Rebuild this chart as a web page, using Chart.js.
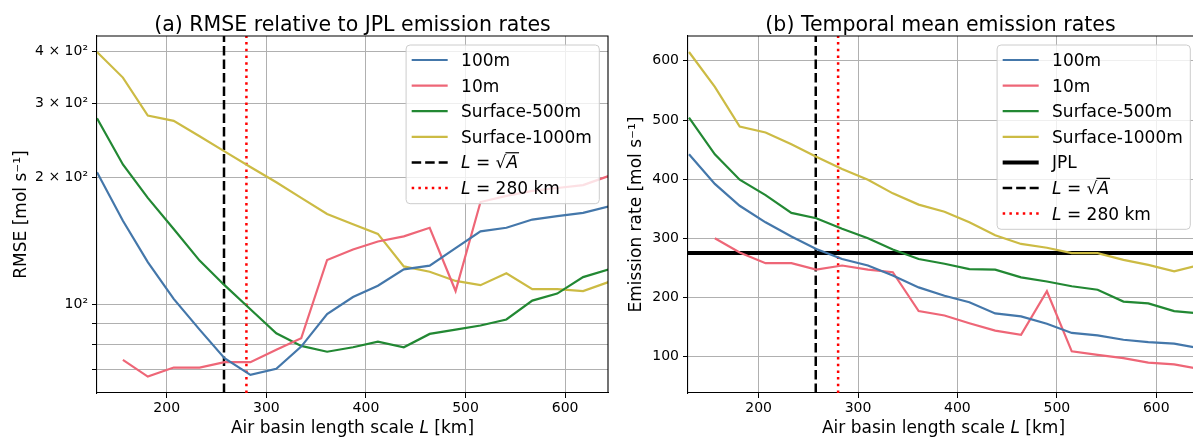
<!DOCTYPE html>
<html>
<head>
<meta charset="utf-8">
<script src="https://cdn.jsdelivr.net/npm/chart.js@4.4.0/dist/chart.umd.min.js"></script>
<style>
  html, body { margin: 0; padding: 0; background: #fff; overflow: hidden; width: 1193px; height: 437px; }
  canvas { position: absolute; top: 0; }
  #rmse { left: 0; }
  #mean { left: 600px; }
</style>
</head>
<body>
<canvas id="rmse" width="615" height="437"></canvas>
<canvas id="mean" width="610" height="437"></canvas>
<script>
// air basin length scale L [km]
const scaleL = [130, 156, 181, 207, 233, 258, 284, 310, 335, 361, 387, 412, 438, 464, 490, 515, 541, 567, 592, 618, 644];

// (a) RMSE relative to JPL [mol s-1]
const rmse100m = [206, 158, 126, 103, 87, 74.4, 67.9, 70.2, 79.3, 94.8, 104, 110.7, 121, 123.5, 136, 149, 152, 159, 162, 165, 171];
const rmse10m = [null, 73.7, 67.3, 70.7, 70.7, 72.8, 72.8, 77.9, 83, 127.4, 135, 141, 145, 152, 107.5, 175, 181, 186, 189, 192, 202];
const rmseSurf500 = [277, 215, 179, 151, 127, 111, 97.3, 85.3, 79.6, 77.1, 79, 81.5, 79, 85, 87, 89, 92, 102, 106, 116, 121];
const rmseSurf1000 = [398, 346, 281, 273, 251, 231, 212, 195, 179, 164, 155, 147, 123, 119.5, 113.6, 111, 118.5, 108.6, 108.6, 107.5, 113];

// (b) temporal mean emission rates [mol s-1]
const mean100m = [442, 392, 355, 327, 303, 282, 265, 254, 237, 217, 203, 192, 173, 168, 155.5, 140, 136, 128.5, 124.5, 122, 114];
const mean10m = [null, 300, 276, 258, 258, 247, 254, 247, 242.6, 177, 169.5, 156.5, 144, 137, 210.5, 109, 103, 97.5, 90, 87, 79];
const meanSurf500 = [504, 442, 399, 373, 343, 334, 316, 300, 281, 265, 257, 248, 247, 234, 227, 219, 213, 193, 190, 177, 173];
const meanSurf1000 = [615, 556, 489, 479, 459, 438, 417, 399, 376, 357, 345, 327, 305, 290.5, 284, 275, 275, 263.5, 255, 244, 255];
const jplRate = 275;

// reference length scales
const sqrtAL = 257.5;
const fixedL = 280;

// ticks
const xTicks = [200, 300, 400, 500, 600];
const rmseTicks = [70, 80, 90, 100, 200, 300, 400];
const rmseTickText = ['', '', '', '10²', '2 × 10²', '3 × 10²', '4 × 10²'];
const meanTicks = [100, 200, 300, 400, 500, 600];

const FONT = "'DejaVu Sans', sans-serif";
Chart.defaults.font.family = FONT;
Chart.defaults.color = '#000';
Chart.defaults.animation = false;

const COLORS = { blue: '#4477AA', pink: '#EE6677', green: '#228833', yellow: '#CCBB44' };

const toPoints = vals => scaleL.map((x, i) => ({ x, y: vals[i] })).filter(p => p.y !== null);
const series = (label, vals, color) => ({ label, data: toPoints(vals), borderColor: color, borderWidth: 2.2, pointRadius: 0, tension: 0, legendParts: [[label, '']] });
const vDashed = (lo, hi) => ({ label: 'L = sqrt(A)', data: [{ x: sqrtAL, y: lo }, { x: sqrtAL, y: hi }], borderColor: '#000', borderWidth: 2.5, borderDash: [9.5, 4], pointRadius: 0,
  legendParts: [['L', 'i'], [' = ', ''], ['√', 'r'], ['A', 'io']] });
const vDotted = (lo, hi) => ({ label: 'L = 280 km', data: [{ x: fixedL, y: lo }, { x: fixedL, y: hi }], borderColor: '#ff0000', borderWidth: 2.5, borderDash: [2.5, 4.2], pointRadius: 0,
  legendParts: [['L', 'i'], [' = 280 km', '']] });

// text with italic parts (matplotlib mathtext look)
function drawParts(ctx, parts, x, y, size, align) {
  const fontOf = st => (st.includes('i') ? 'italic ' : '') + size + 'px ' + FONT;
  const widths = parts.map(([t, st]) => { ctx.font = fontOf(st); return ctx.measureText(t).width; });
  const total = widths.reduce((a, b) => a + b, 0);
  let cx = align === 'center' ? x - total / 2 : x;
  let barStart = null;
  ctx.textAlign = 'left';
  ctx.textBaseline = 'alphabetic';
  parts.forEach(([t, st], i) => {
    ctx.font = fontOf(st);
    ctx.fillText(t, cx, y);
    if (st.includes('r')) barStart = cx + widths[i] - 1;
    if (st.includes('o')) {
      ctx.save();
      ctx.strokeStyle = ctx.fillStyle; ctx.lineWidth = 1.2;
      ctx.beginPath(); ctx.moveTo(barStart, y - size * 0.92); ctx.lineTo(cx + widths[i] + 1, y - size * 0.92); ctx.stroke();
      ctx.restore();
    }
    cx += widths[i];
  });
}

function drawLegend(chart) {
  const { ctx, chartArea: a } = chart;
  const ds = chart.data.datasets;
  const size = 17, rowH = 25.6;
  ctx.save();
  let maxW = 0;
  ds.forEach(d => {
    let w = 0;
    d.legendParts.forEach(([t, st]) => { ctx.font = (st.includes('i') ? 'italic ' : '') + size + 'px ' + FONT; w += ctx.measureText(t).width; });
    maxW = Math.max(maxW, w);
  });
  const bw = 55 + maxW + 7.5, bh = 15 + (ds.length - 1) * rowH + 15.7;
  const bx = a.right - 8.7 - bw, by = a.top + 9;
  ctx.fillStyle = 'rgba(255,255,255,0.8)';
  ctx.strokeStyle = '#cccccc';
  ctx.lineWidth = 1;
  ctx.beginPath(); ctx.roundRect(bx, by, bw, bh, 4); ctx.fill(); ctx.stroke();
  ds.forEach((d, i) => {
    const cy = by + 15 + i * rowH;
    ctx.strokeStyle = d.borderColor; ctx.lineWidth = d.borderWidth;
    ctx.setLineDash(d.borderDash || []);
    ctx.beginPath(); ctx.moveTo(bx + 5.6, cy); ctx.lineTo(bx + 41.6, cy); ctx.stroke();
    ctx.setLineDash([]);
    ctx.fillStyle = '#000';
    drawParts(ctx, d.legendParts, bx + 55, cy + 6, size, 'left');
  });
  ctx.restore();
}

const panelPlugin = {
  id: 'panel',
  afterDatasetsDraw(chart) { drawLegend(chart); },
  afterDraw(chart, args, opts) {
    const { ctx, chartArea: a } = chart;
    ctx.save();
    ctx.strokeStyle = '#000'; ctx.lineWidth = 1.1;
    ctx.beginPath(); ctx.moveTo(a.left, a.top); ctx.lineTo(a.right, a.top); ctx.lineTo(a.right, a.bottom); ctx.stroke();
    ctx.fillStyle = '#000';
    ctx.font = '20.5px ' + FONT; ctx.textAlign = 'center'; ctx.textBaseline = 'alphabetic';
    ctx.fillText(opts.title, (a.left + a.right) / 2 + (opts.dx || 0), 31);
    drawParts(ctx, [['Air basin length scale ', ''], ['L', 'i'], [' [km]', '']], (a.left + a.right) / 2, 433, 17, 'center');
    ctx.restore();
  }
};

function xScale(min, max) {
  return {
    type: 'linear', min, max,
    afterBuildTicks: s => { s.ticks = xTicks.map(v => ({ value: v })); },
    afterFit: s => { s.height = 44; },
    ticks: { font: { size: 14 }, padding: 2, maxRotation: 0, callback: v => String(v) },
    grid: { color: '#b0b0b0', lineWidth: 1, tickLength: 5, tickColor: '#000' },
    border: { display: true, color: '#000', width: 1.1 }
  };
}

new Chart(document.getElementById('rmse'), {
  type: 'line',
  data: { datasets: [
    series('100m', rmse100m, COLORS.blue),
    series('10m', rmse10m, COLORS.pink),
    series('Surface-500m', rmseSurf500, COLORS.green),
    series('Surface-1000m', rmseSurf1000, COLORS.yellow),
    vDashed(61.5, 434.5),
    vDotted(61.5, 434.5)
  ] },
  options: {
    responsive: false,
    layout: { padding: { top: 36, right: 7, left: 0, bottom: 0 } },
    plugins: { legend: { display: false }, tooltip: { enabled: false }, panel: { title: '(a) RMSE relative to JPL emission rates' } },
    scales: {
      x: xScale(130, 643),
      y: {
        type: 'logarithmic', min: 61.5, max: 434.5,
        afterBuildTicks: s => { s.ticks = rmseTicks.map(v => ({ value: v })); },
        afterFit: s => { s.width = 97; },
        ticks: { font: { size: 14 }, padding: 4, callback: v => rmseTickText[rmseTicks.indexOf(v)] ?? '' },
        grid: { color: '#b0b0b0', lineWidth: 1, tickLength: 5, tickColor: '#000' },
        border: { display: true, color: '#000', width: 1.1 },
        title: { display: true, text: 'RMSE [mol s⁻¹]', font: { size: 17 }, padding: { top: 11 } }
      }
    }
  },
  plugins: [panelPlugin]
});

new Chart(document.getElementById('mean'), {
  type: 'line',
  data: { datasets: [
    series('100m', mean100m, COLORS.blue),
    series('10m', mean10m, COLORS.pink),
    series('Surface-500m', meanSurf500, COLORS.green),
    series('Surface-1000m', meanSurf1000, COLORS.yellow),
    { label: 'JPL', data: [{ x: 129, y: jplRate }, { x: 643, y: jplRate }], borderColor: '#000', borderWidth: 4, pointRadius: 0, legendParts: [['JPL', '']] },
    vDashed(38.5, 642),
    vDotted(38.5, 642)
  ] },
  options: {
    responsive: false,
    layout: { padding: { top: 36, right: 11, left: 0, bottom: 0 } },
    plugins: { legend: { display: false }, tooltip: { enabled: false }, panel: { title: '(b) Temporal mean emission rates', dx: -3 } },
    scales: {
      x: xScale(129, 643),
      y: {
        type: 'linear', min: 38.5, max: 642,
        afterBuildTicks: s => { s.ticks = meanTicks.map(v => ({ value: v })); },
        afterFit: s => { s.width = 88; },
        ticks: { font: { size: 14 }, padding: 4 },
        grid: { color: '#b0b0b0', lineWidth: 1, tickLength: 5, tickColor: '#000' },
        border: { display: true, color: '#000', width: 1.1 },
        title: { display: true, text: 'Emission rate [mol s⁻¹]', font: { size: 17 }, padding: { top: 26 } }
      }
    }
  },
  plugins: [panelPlugin]
});
</script>
</body>
</html>
